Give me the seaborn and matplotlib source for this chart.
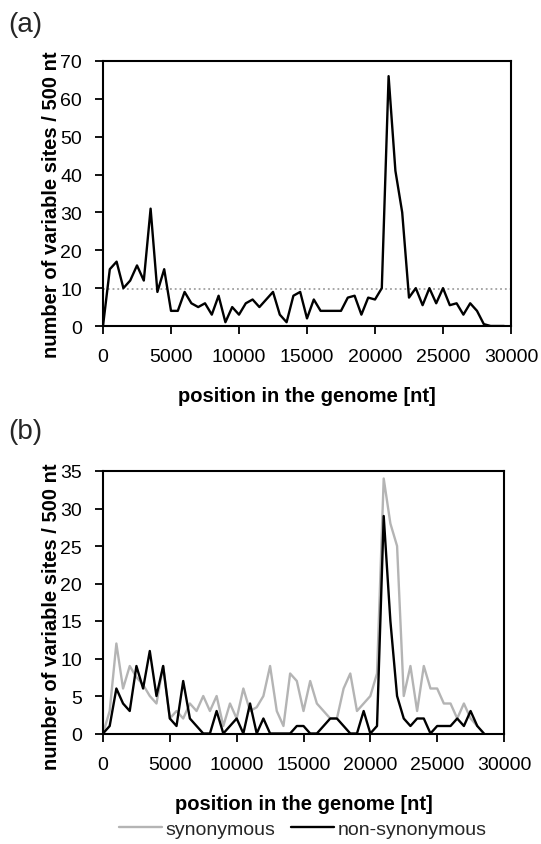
import matplotlib
matplotlib.use("Agg")
import matplotlib.pyplot as plt
import seaborn as sns
import pandas as pd
from matplotlib.lines import Line2D

sns.set_theme(style="white")
plt.rcParams['font.family'] = ['Liberation Sans', 'DejaVu Sans']

# ---------------- data ----------------
# panel (a): all variable sites per 500 nt window
pos_a = list(range(0, 30000, 500))
sites_a = [0, 15, 17, 10, 12, 16, 12, 31, 9, 15,
           4, 4, 9, 6, 5, 6, 3, 8, 1, 5,
           3, 6, 7, 5, 7, 9, 3, 1, 8, 9,
           2, 7, 4, 4, 4, 4, 7.5, 8, 3, 7.5,
           7, 10, 66, 41, 30, 7.5, 10, 5.5, 10, 6,
           10, 5.5, 6, 3, 6, 4, 0.5, 0, 0, 0]
mean_a = 9.7

# panel (b): synonymous / non-synonymous
pos_syn = list(range(0, 28500, 500))
syn = [0, 3, 12, 6, 9, 7.5, 6.5, 5, 4, 9,
       2, 3, 2, 4, 3, 5, 3, 5, 1, 4,
       2, 6, 3, 3.5, 5, 9, 3, 1, 8, 7,
       3, 7, 4, 3, 2, 2, 6, 8, 3, 4,
       5, 8, 34, 28, 25, 5, 9, 3, 9, 6,
       6, 4, 4, 2, 4, 2, 1]
pos_non = list(range(0, 29000, 500))
nonsyn = [0, 1, 6, 4, 3, 9, 6, 11, 5, 9,
          2, 1, 7, 2, 1, 0, 0, 3, 0, 1,
          2, 0, 4, 0, 2, 0, 0, 0, 0, 1,
          1, 0, 0, 1, 2, 2, 1, 0, 0, 3,
          0, 1, 29, 15, 5, 2, 1, 2, 2, 0,
          1, 1, 1, 2, 1, 3, 1, 0]

xticks = [0, 5000, 10000, 15000, 20000, 25000, 30000]
yticks_a = [0, 10, 20, 30, 40, 50, 60, 70]
yticks_b = [0, 5, 10, 15, 20, 25, 30, 35]
ylabel = "number of variable sites / 500 nt"
xlabel = "position in the genome [nt]"

df_a = pd.DataFrame({"pos": pos_a, "sites": sites_a})
df_s = pd.DataFrame({"pos": pos_syn, "sites": syn})
df_n = pd.DataFrame({"pos": pos_non, "sites": nonsyn})

GRAY = "#b4b4b4"
W, H = 541, 845

fig = plt.figure(figsize=(W / 100, H / 100), dpi=100)
ax1 = fig.add_axes([103 / W, 1 - 327 / H, (511 - 103) / W, (327 - 62) / H])
ax2 = fig.add_axes([103 / W, 1 - 734.5 / H, (504 - 103) / W, (734.5 - 472) / H])

sns.lineplot(data=df_a, x="pos", y="sites", ax=ax1, color="black", linewidth=1.7)
ax1.axhline(mean_a, color="#a0a0a0", linestyle=":", linewidth=1.3, zorder=1)

sns.lineplot(data=df_s, x="pos", y="sites", ax=ax2, color=GRAY, linewidth=1.7)
sns.lineplot(data=df_n, x="pos", y="sites", ax=ax2, color="black", linewidth=1.7)

for ax, yt in ((ax1, yticks_a), (ax2, yticks_b)):
    ax.set_xlim(0, 30000)
    ax.set_ylim(yt[0], yt[-1])
    ax.set_xticks(xticks)
    ax.set_yticks(yt)
    ax.set_xticklabels([str(t) for t in xticks])
    ax.set_yticklabels([str(t) for t in yt])
    ax.tick_params(axis="both", direction="out", length=6, width=1.3,
                   color="black", labelsize=14, labelcolor="black")
    ax.tick_params(axis="x", pad=10)
    ax.tick_params(axis="y", pad=9)
    ax.tick_params(bottom=True, left=True, top=False, right=False)
    for s in ax.spines.values():
        s.set_visible(True)
        s.set_color("black")
        s.set_linewidth(1.5)
    ax.set_xlabel(xlabel, fontsize=14.5, fontweight="bold", color="black")
    ax.set_ylabel(ylabel, fontsize=14.5, fontweight="bold", color="black")
    ax.grid(False)

ax1.xaxis.set_label_coords(0.5, -0.228)
ax2.xaxis.set_label_coords(0.5, -0.231)
ax1.yaxis.set_label_coords(-0.103, 0.46)
ax2.yaxis.set_label_coords(-0.105, 0.45)

fig.text(8 / W, 1 - 25 / H, "(a)", fontsize=20, ha="left", va="center")
fig.text(8 / W, 1 - 432 / H, "(b)", fontsize=20, ha="left", va="center")

handles = [Line2D([], [], color=GRAY, linewidth=1.7),
           Line2D([], [], color="black", linewidth=1.7)]
fig.legend(handles, ["synonymous", "non-synonymous"], loc="center",
           bbox_to_anchor=(303 / W, 1 - 830 / H), ncol=2, frameon=False,
           fontsize=14, handlelength=2.2, handletextpad=0.2, columnspacing=0.8,
           borderpad=0.1)

fig.savefig("out.png", dpi=100, facecolor="white")
